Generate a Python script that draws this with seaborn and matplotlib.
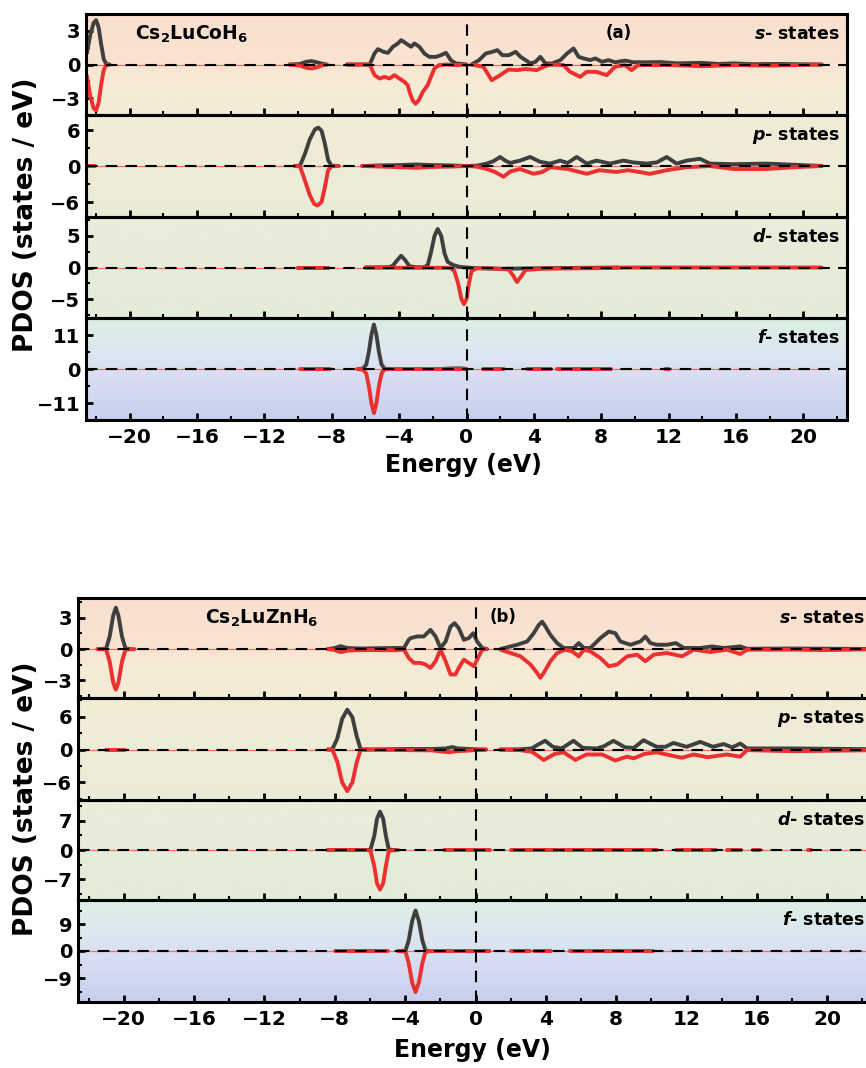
import numpy as np
import pandas as pd
import matplotlib
matplotlib.use("Agg")
import matplotlib.pyplot as plt
from matplotlib.colors import LinearSegmentedColormap
from matplotlib.ticker import MultipleLocator, AutoMinorLocator, FixedLocator
import seaborn as sns

sns.set_theme(style="ticks")
plt.rcParams['font.family'] = ['DejaVu Sans']
plt.rcParams['font.weight'] = 'bold'
plt.rcParams['mathtext.fontset'] = 'custom'
plt.rcParams['mathtext.rm'] = 'DejaVu Sans:bold'
plt.rcParams['mathtext.it'] = 'DejaVu Sans:italic:bold'
plt.rcParams['mathtext.bf'] = 'DejaVu Sans:bold'
for key in ['text.color', 'axes.labelcolor', 'xtick.color', 'ytick.color', 'axes.edgecolor']:
    plt.rcParams[key] = 'black'

# ---------------- data : Cs2LuCoH6 (a) ----------------
co_energy_range = [-22.6, 21.1]

co_s_up = [
    [(-22.55, 1.0), (-22.35, 2.6), (-22.15, 3.7), (-22.0, 3.95), (-21.85, 3.3), (-21.7, 1.8), (-21.55, 0.5), (-21.4, 0.05), (-21.2, 0)],
    [(-10.5, 0), (-9.9, 0.05), (-9.5, 0.25), (-9.2, 0.3), (-8.9, 0.2), (-8.5, 0.05), (-8.3, 0)],
    [(-7.1, 0), (-5.75, 0), (-5.46, 1.0), (-5.26, 1.37), (-4.93, 1.13), (-4.67, 1.04), (-4.37, 1.58), (-4.08, 1.87), (-3.88, 2.17),
     (-3.59, 1.88), (-3.29, 1.58), (-3.09, 1.87), (-2.80, 1.58), (-2.50, 0.98), (-2.21, 0.68), (-1.81, 0.68), (-1.52, 0.83),
     (-1.22, 1.04), (-0.93, 0.39), (-0.63, 0.09), (-0.24, 0.05), (0.0, 0.0)],
    [(0.3, 0), (0.75, 0.39), (1.14, 0.98), (1.54, 1.13), (1.83, 1.28), (2.13, 0.83), (2.52, 0.83), (2.92, 1.13), (3.21, 0.68),
     (3.51, 0.39), (3.80, 0.09), (4.10, 0.24), (4.39, 0.68), (4.69, 0.09), (5.08, 0.09), (5.58, 0.39), (5.97, 0.98), (6.36, 1.43),
     (6.66, 0.68), (6.96, 0.54), (7.35, 0.39), (7.65, 0.54), (8.04, 0.24), (8.43, 0.39), (8.83, 0.2), (9.42, 0.35), (9.9, 0.2),
     (10.7, 0.2), (11.5, 0.22), (12.5, 0.1), (13.9, 0.15), (15.0, 0.05), (15.85, 0.1), (17.0, 0.03), (18.5, 0.05), (20.0, 0.02), (21.1, 0)],
]
co_s_dn = [
    [(-22.55, -1.0), (-22.35, -2.8), (-22.15, -3.9), (-22.0, -4.1), (-21.85, -3.4), (-21.7, -1.8), (-21.55, -0.5), (-21.4, -0.05), (-21.2, 0)],
    [(-10.5, 0), (-9.9, -0.1), (-9.5, -0.3), (-9.2, -0.35), (-8.9, -0.25), (-8.5, -0.05), (-8.3, 0)],
    [(-7.1, 0), (-5.75, 0), (-5.46, -0.95), (-5.16, -1.25), (-4.87, -1.1), (-4.57, -1.25), (-4.28, -0.95), (-3.98, -1.25),
     (-3.68, -1.55), (-3.49, -1.85), (-3.35, -2.6), (-3.19, -3.2), (-3.03, -3.5), (-2.84, -3.2), (-2.60, -2.45), (-2.31, -1.85),
     (-2.11, -1.1), (-1.91, -0.36), (-1.62, -0.05), (-1.22, 0), (-0.6, -0.05), (0.0, 0)],
    [(0.3, 0), (1.0, -0.2), (1.5, -1.4), (2.0, -0.95), (2.5, -0.45), (2.99, -0.5), (3.5, -0.4), (4.17, -0.5), (4.6, -0.2),
     (4.96, 0), (5.76, -0.05), (6.15, -0.65), (6.75, -1.1), (7.14, -0.65), (7.7, -0.65), (8.33, -0.95), (8.82, -0.2),
     (9.4, -0.05), (9.81, -0.5), (10.2, -0.05), (12.0, -0.05), (14.0, -0.15), (16.0, -0.05), (18.0, -0.1), (21.1, 0)],
]

co_p_up = [
    [(-10.2, 0), (-9.89, 0.05), (-9.60, 2.0), (-9.30, 4.5), (-9.0, 6.1), (-8.81, 6.4), (-8.61, 5.9), (-8.41, 3.7), (-8.22, 1.0),
     (-8.02, 0.05), (-7.6, 0)],
    [(-6.2, 0), (-5.0, 0.1), (-4.0, 0.15), (-3.0, 0.25), (-2.0, 0.15), (-1.0, 0.1), (0.0, 0), (0.6, 0.05), (1.2, 0.4), (1.6, 0.8),
     (2.0, 1.5), (2.3, 0.9), (2.59, 0.5), (3.18, 0.9), (3.78, 1.5), (4.37, 0.7), (4.96, 0.4), (5.56, 0.9), (6.0, 0.5), (6.55, 1.5),
     (7.14, 0.4), (7.73, 0.9), (8.53, 0.4), (9.0, 0.7), (9.32, 0.9), (9.9, 0.6), (10.7, 0.4), (11.3, 0.6), (11.89, 1.5),
     (12.48, 0.4), (13.08, 0.9), (13.86, 1.2), (14.46, 0.4), (15.84, 0.3), (17.82, 0.4), (19.5, 0.2), (21.1, 0)],
]
co_p_dn = [
    [(-22.6, 0), (-22.05, 0)],
    [(-10.2, 0), (-9.89, -0.05), (-9.60, -2.4), (-9.30, -4.9), (-9.05, -6.3), (-8.85, -6.6), (-8.61, -6.0), (-8.41, -3.5),
     (-8.22, -0.7), (-8.02, -0.05), (-7.6, 0)],
    [(-6.2, 0), (-5.0, -0.1), (-4.0, -0.2), (-3.0, -0.3), (-2.0, -0.15), (-1.0, -0.1), (0.0, 0), (0.6, -0.1), (1.21, -0.5),
     (1.7, -1.0), (2.2, -1.8), (2.6, -0.9), (3.18, -0.5), (3.98, -1.3), (4.5, -1.0), (5.0, -0.2), (6.0, -0.5), (7.14, -1.3),
     (7.9, -0.7), (8.9, -1.0), (9.6, -0.7), (10.9, -1.3), (11.9, -0.7), (13.08, -0.2), (14.46, 0), (15.84, -0.5), (17.82, -0.5),
     (19.5, -0.2), (21.1, 0)],
]

co_d_up = [
    [(-10.0, 0), (-8.2, 0)],
    [(-6.0, 0), (-4.6, 0.05), (-4.37, 0.3), (-4.1, 1.2), (-3.88, 1.85), (-3.65, 1.2), (-3.39, 0.2), (-3.0, 0.05), (-2.5, 0.05),
     (-2.3, 0.4), (-2.1, 2.5), (-1.9, 5.0), (-1.71, 6.1), (-1.5, 5.0), (-1.3, 2.2), (-1.12, 0.9), (-0.8, 0.4), (-0.4, 0.1),
     (0.0, 0), (0.5, -0.1), (2.0, -0.2), (3.5, -0.15), (5.0, -0.1), (7.0, -0.05), (9.0, 0)],
]
co_d_dn = [
    [(-10.0, 0), (-8.2, 0)],
    [(-6.0, 0), (-4.0, -0.05), (-2.0, -0.05), (-1.0, -0.05), (-0.73, -0.5), (-0.5, -2.5), (-0.3, -5.0), (-0.15, -5.8),
     (0.0, -5.0), (0.15, -2.5), (0.3, -0.6), (0.6, -0.1), (1.5, -0.15), (2.5, -0.3), (2.75, -1.2), (3.0, -2.3), (3.25, -1.4),
     (3.5, -0.4), (4.5, -0.2), (6.0, -0.15), (8.0, -0.1), (9.5, 0), (15.0, 0), (21.1, 0)],
]

co_f_up = [
    [(-6.4, 0), (-6.15, 0.1), (-5.95, 1.5), (-5.8, 5.5), (-5.65, 11.0), (-5.5, 14.4), (-5.35, 11.0), (-5.2, 5.5), (-5.05, 1.5),
     (-4.87, 0.1), (-4.6, 0)],
    [(-1.5, 0), (-0.8, 0.2), (-0.3, 0.2), (0.0, 0)],
]
co_f_dn = [
    [(-9.9, 0), (-8.1, 0)],
    [(-6.5, 0), (-6.15, -0.2), (-5.95, -1.5), (-5.8, -5.5), (-5.65, -11.0), (-5.5, -14.3), (-5.35, -11.0), (-5.2, -5.5),
     (-5.05, -1.5), (-4.87, -0.1), (-4.6, 0), (0.0, 0)],
    [(1.0, 0), (2.2, 0)],
    [(3.6, 0), (5.0, 0)],
    [(5.35, 0), (8.6, 0)],
    [(11.8, 0), (12.0, 0)],
]

# ---------------- data : Cs2LuZnH6 (b) ----------------
zn_energy_range = [-22.6, 23.0]

zn_s_up = [
    [(-21.4, 0), (-21.0, 0.05), (-20.8, 1.2), (-20.6, 3.2), (-20.45, 3.97), (-20.3, 3.2), (-20.1, 1.2), (-19.9, 0.05), (-19.6, 0)],
    [(-8.4, 0), (-8.0, 0.1), (-7.67, 0.28), (-7.3, 0.1), (-6.5, 0.05), (-5.5, 0.08), (-4.5, 0.1), (-4.07, 0.1), (-3.79, 0.9),
     (-3.69, 1.05), (-3.31, 1.21), (-2.94, 1.21), (-2.56, 1.84), (-2.27, 1.21), (-1.99, 0.1), (-1.70, 0.73), (-1.42, 2.16),
     (-1.19, 2.48), (-0.95, 2.0), (-0.66, 0.89), (-0.38, 1.05), (-0.13, 1.52), (0.09, 0.73), (0.38, 0.1), (0.66, 0)],
    [(1.42, 0), (1.99, 0.25), (2.37, 0.41), (2.94, 0.73), (3.31, 1.52), (3.60, 2.32), (3.79, 2.63), (3.98, 2.16), (4.26, 1.36),
     (4.64, 0.57), (5.02, 0.1), (5.59, 0.1), (5.87, 0.57), (6.16, 0.1), (6.53, 0.1), (7.10, 1.05), (7.58, 1.68), (7.95, 1.52),
     (8.24, 0.73), (8.81, 0.41), (9.38, 0.73), (9.66, 1.2), (9.94, 0.57), (10.32, 0.41), (10.89, 0.41), (11.4, 0.57),
     (11.84, 0.1), (12.78, 0.1), (13.45, 0.25), (14.11, 0.1), (15.05, 0.25), (15.44, 0.03), (18.0, 0.05), (23.0, 0)],
]
zn_s_dn = [
    [(-21.5, 0), (-21.0, -0.05), (-20.8, -1.2), (-20.6, -3.2), (-20.45, -3.9), (-20.3, -3.2), (-20.1, -1.2), (-19.9, -0.05), (-19.4, 0)],
    [(-8.4, 0), (-8.0, -0.1), (-7.67, -0.3), (-7.3, -0.15), (-6.5, -0.1), (-5.5, -0.1), (-4.5, -0.12), (-4.07, -0.05),
     (-3.79, -0.86), (-3.50, -1.33), (-3.13, -1.33), (-2.84, -1.49), (-2.56, -1.81), (-2.27, -1.17), (-1.99, -0.06),
     (-1.70, -1.17), (-1.42, -2.44), (-1.14, -2.44), (-0.95, -1.81), (-0.66, -1.02), (-0.38, -1.33), (-0.09, -1.65),
     (0.09, -1.02), (0.38, -0.06), (0.6, 0)],
    [(1.42, -0.06), (1.99, -0.38), (2.56, -0.7), (3.13, -1.49), (3.50, -2.29), (3.69, -2.76), (3.88, -2.29), (4.26, -1.17),
     (4.64, -0.38), (5.11, -0.06), (5.49, -0.22), (5.87, -0.7), (6.16, -0.06), (6.53, -0.22), (7.10, -0.86), (7.58, -1.65),
     (8.05, -1.49), (8.62, -0.7), (9.19, -0.54), (9.66, -1.17), (10.13, -0.54), (10.89, -0.38), (11.74, -0.7), (12.41, -0.06),
     (13.36, -0.29), (14.30, -0.06), (15.05, -0.48), (15.44, -0.06), (18.09, -0.06), (20.0, -0.1), (23.0, 0)],
]

zn_p_up = [
    [(-8.4, 0), (-8.14, 0.05), (-7.86, 2.0), (-7.58, 5.6), (-7.29, 7.27), (-7.0, 5.9), (-6.76, 2.5), (-6.53, 0.05), (-6.2, 0)],
    [(-6.2, 0), (-4.0, 0.1), (-2.5, 0.1), (-1.7, 0.2), (-1.33, 0.45), (-1.0, 0.2), (0.0, 0.05), (0.6, 0)],
    [(1.4, 0), (2.5, 0.05), (3.2, 0.2), (3.5, 0.8), (3.96, 1.6), (4.4, 0.5), (4.9, 0.2), (5.57, 1.6), (6.1, 0.3), (6.9, 0.2),
     (7.3, 0.6), (7.84, 1.6), (8.5, 0.4), (9.0, 0.3), (9.55, 1.7), (10.3, 0.5), (10.8, 0.5), (11.25, 1.2), (12.0, 0.5),
     (12.78, 1.4), (13.5, 0.5), (14.1, 1.0), (14.6, 0.4), (15.05, 1.1), (15.44, 0.2), (18.0, 0.2), (23.0, 0.05)],
]
zn_p_dn = [
    [(-21.0, 0), (-19.9, 0)],
    [(-8.4, 0), (-8.14, -0.05), (-7.86, -2.2), (-7.58, -6.0), (-7.29, -7.58), (-7.0, -6.0), (-6.76, -2.4), (-6.53, -0.05), (-6.2, 0)],
    [(-6.2, 0), (-4.0, -0.1), (-2.5, -0.15), (-1.5, -0.5), (-1.1, -0.3), (-0.5, -0.2), (0.0, -0.1), (0.6, 0)],
    [(1.4, 0), (2.5, -0.1), (3.2, -0.4), (3.88, -1.9), (4.5, -0.8), (5.0, -0.5), (5.68, -1.9), (6.3, -0.9), (7.2, -0.9),
     (7.95, -2.0), (8.6, -1.3), (9.0, -1.6), (9.6, -0.8), (10.3, -0.5), (11.0, -1.0), (11.74, -1.5), (12.4, -0.9),
     (13.2, -1.4), (14.3, -0.9), (15.05, -1.3), (15.44, -0.1), (18.0, -0.3), (23.0, -0.1)],
]

zn_d_up = [
    [(-8.4, 0), (-6.2, 0), (-5.97, 0.1), (-5.75, 3.5), (-5.6, 7.5), (-5.43, 9.2), (-5.25, 7.5), (-5.1, 3.5), (-4.93, 0.1), (-4.6, 0)],
]
zn_d_dn = [
    [(-8.4, 0), (-6.2, 0), (-5.97, -0.2), (-5.75, -4.0), (-5.6, -8.0), (-5.43, -9.5), (-5.25, -8.0), (-5.1, -4.0), (-4.93, -0.2), (-4.4, 0)],
    [(-1.8, 0), (0.85, 0)],
    [(2.0, 0), (10.3, 0)],
    [(11.4, 0), (13.7, 0)],
    [(14.3, 0), (15.1, 0)],
    [(15.8, 0), (16.2, 0)],
    [(18.9, 0), (19.1, 0)],
]

zn_f_up = [
    [(-4.4, 0), (-3.98, 0.1), (-3.8, 3.5), (-3.6, 10.0), (-3.41, 13.5), (-3.22, 10.0), (-3.02, 3.5), (-2.84, 0.1), (-2.6, 0)],
]
zn_f_dn = [
    [(-8.0, 0), (-5.0, 0)],
    [(-4.4, 0), (-3.98, -0.2), (-3.8, -4.0), (-3.6, -10.5), (-3.41, -13.7), (-3.22, -10.5), (-3.02, -4.0), (-2.84, -0.2),
     (-2.4, 0), (0.0, 0), (0.8, 0)],
    [(2.0, 0), (3.1, 0)],
    [(3.3, 0), (4.3, 0)],
    [(5.4, 0), (10.1, 0)],
]

orbitals = ["s", "p", "d", "f"]

# ---------------- styling ----------------
W, H = 866, 1068
BLACK = "#3f3f3f"
RED = "#ec2f2f"
bg_cmap = LinearSegmentedColormap.from_list("bg", [
    (0.00, "#f9dfcf"), (0.12, "#f8e4d2"), (0.17, "#f6ebd6"), (0.25, "#f2ebd6"),
    (0.50, "#eaecd8"), (0.74, "#e2ecda"), (0.76, "#dcefe5"), (0.83, "#dde7f0"),
    (0.91, "#d5dcf2"), (1.00, "#c8cfed")])


def to_frame(up_segs, dn_segs):
    rows = []
    for spin, segs in (("up", up_segs), ("dn", dn_segs)):
        for k, seg in enumerate(segs):
            for e, v in seg:
                rows.append((spin, "%s%d" % (spin, k), e, v))
    return pd.DataFrame(rows, columns=["spin", "seg", "E", "pdos"])


def draw_block(fig, left, right_px, edges, ylims, yticks, data, erange, compound, cmp_x, tag, tag_x, xlab_y, ylab_y):
    x0 = left / W
    wd = (right_px - left) / W
    # gradient background behind the whole stack
    bg = fig.add_axes([x0, 1 - edges[-1] / H, wd, (edges[-1] - edges[0]) / H], zorder=0)
    bg.imshow(np.linspace(0, 1, 256)[:, None], aspect="auto", cmap=bg_cmap, extent=[0, 1, 0, 1])
    bg.axis("off")
    axes = []
    for i, orb in enumerate(orbitals):
        y0, y1 = edges[i], edges[i + 1]
        ax = fig.add_axes([x0, 1 - y1 / H, wd, (y1 - y0) / H], zorder=1)
        ax.set_facecolor("none")
        up_segs, dn_segs = data[orb]
        df = to_frame(up_segs, dn_segs)
        ax.plot(erange, [0, 0], color="#f07070", lw=0.9, zorder=1)
        sns.lineplot(data=df, x="E", y="pdos", hue="spin", hue_order=["up", "dn"], units="seg",
                     estimator=None, sort=False, palette={"up": BLACK, "dn": RED},
                     lw=2.8, legend=False, ax=ax, zorder=2)
        ax.axhline(0, color="black", ls=(0, (5.5, 4)), lw=1.5, zorder=4)
        ax.axvline(0, color="black", ls=(0, (5.5, 4)), lw=1.5, zorder=4)
        ax.set_xlim(-22.6, 22.6)
        ax.set_ylim(*ylims[i])
        ax.xaxis.set_major_locator(MultipleLocator(4))
        ax.xaxis.set_minor_locator(MultipleLocator(2))
        ax.yaxis.set_major_locator(FixedLocator(yticks[i]))
        ax.yaxis.set_minor_locator(AutoMinorLocator(2))
        ax.tick_params(which="major", direction="in", length=5, width=2, labelsize=14, pad=4, colors="black")
        ax.tick_params(which="minor", direction="in", length=3, width=1.5, colors="black")
        ax.tick_params(axis="x", labelsize=14.5, pad=6, labelbottom=(i == 3))
        ax.set_xlabel("")
        ax.set_ylabel("")
        for lab in ax.get_xticklabels() + ax.get_yticklabels():
            lab.set_fontweight("bold")
        for sp in ax.spines.values():
            sp.set_linewidth(2.2)
            sp.set_color("black")
        ax.text(0.99, 0.80, r"$%s$- states" % orb, transform=ax.transAxes, ha="right", va="center",
                fontsize=12.5, fontweight="bold", color="black", zorder=5)
        axes.append(ax)
    axes[0].text(cmp_x, 0.80, compound, transform=axes[0].transAxes, ha="left", va="center",
                 fontsize=13.5, fontweight="bold", color="black")
    axes[0].text(tag_x, 0.81, tag, transform=axes[0].transAxes, ha="center", va="center",
                 fontsize=12, fontweight="bold", color="black")
    fig.text(0.5 * (left + right_px) / W - 0.004, xlab_y, "Energy (eV)", ha="center", va="center",
             fontsize=17, fontweight="bold", color="black")
    fig.text(0.030, ylab_y, "PDOS (states / eV)", rotation=90, ha="center", va="center",
             fontsize=19, fontweight="bold", color="black")
    return axes


fig = plt.figure(figsize=(W / 100, H / 100), dpi=100)

co_data = {"s": (co_s_up, co_s_dn), "p": (co_p_up, co_p_dn), "d": (co_d_up, co_d_dn), "f": (co_f_up, co_f_dn)}
zn_data = {"s": (zn_s_up, zn_s_dn), "p": (zn_p_up, zn_p_dn), "d": (zn_d_up, zn_d_dn), "f": (zn_f_up, zn_f_dn)}

draw_block(fig, 86, 847, [14, 115, 217, 318, 420],
           [(-4.5, 4.5), (-8.5, 8.5), (-8, 8), (-16.5, 16.5)],
           [[-3, 0, 3], [-6, 0, 6], [-5, 0, 5], [-11, 0, 11]],
           co_data, co_energy_range, r"Cs$_2$LuCoH$_6$", 0.064, "(a)", 0.70,
           1 - 465 / H, 1 - 215 / H)

draw_block(fig, 78, 873, [598, 698, 800, 900, 1002],
           [(-4.7, 4.9), (-9.2, 9.4), (-12, 12), (-17, 17)],
           [[-3, 0, 3], [-6, 0, 6], [-7, 0, 7], [-9, 0, 9]],
           zn_data, zn_energy_range, r"Cs$_2$LuZnH$_6$", 0.16, "(b)", 0.535,
           1 - 1050 / H, 1 - 799 / H)

fig.savefig("out.png", dpi=100, facecolor="white")
